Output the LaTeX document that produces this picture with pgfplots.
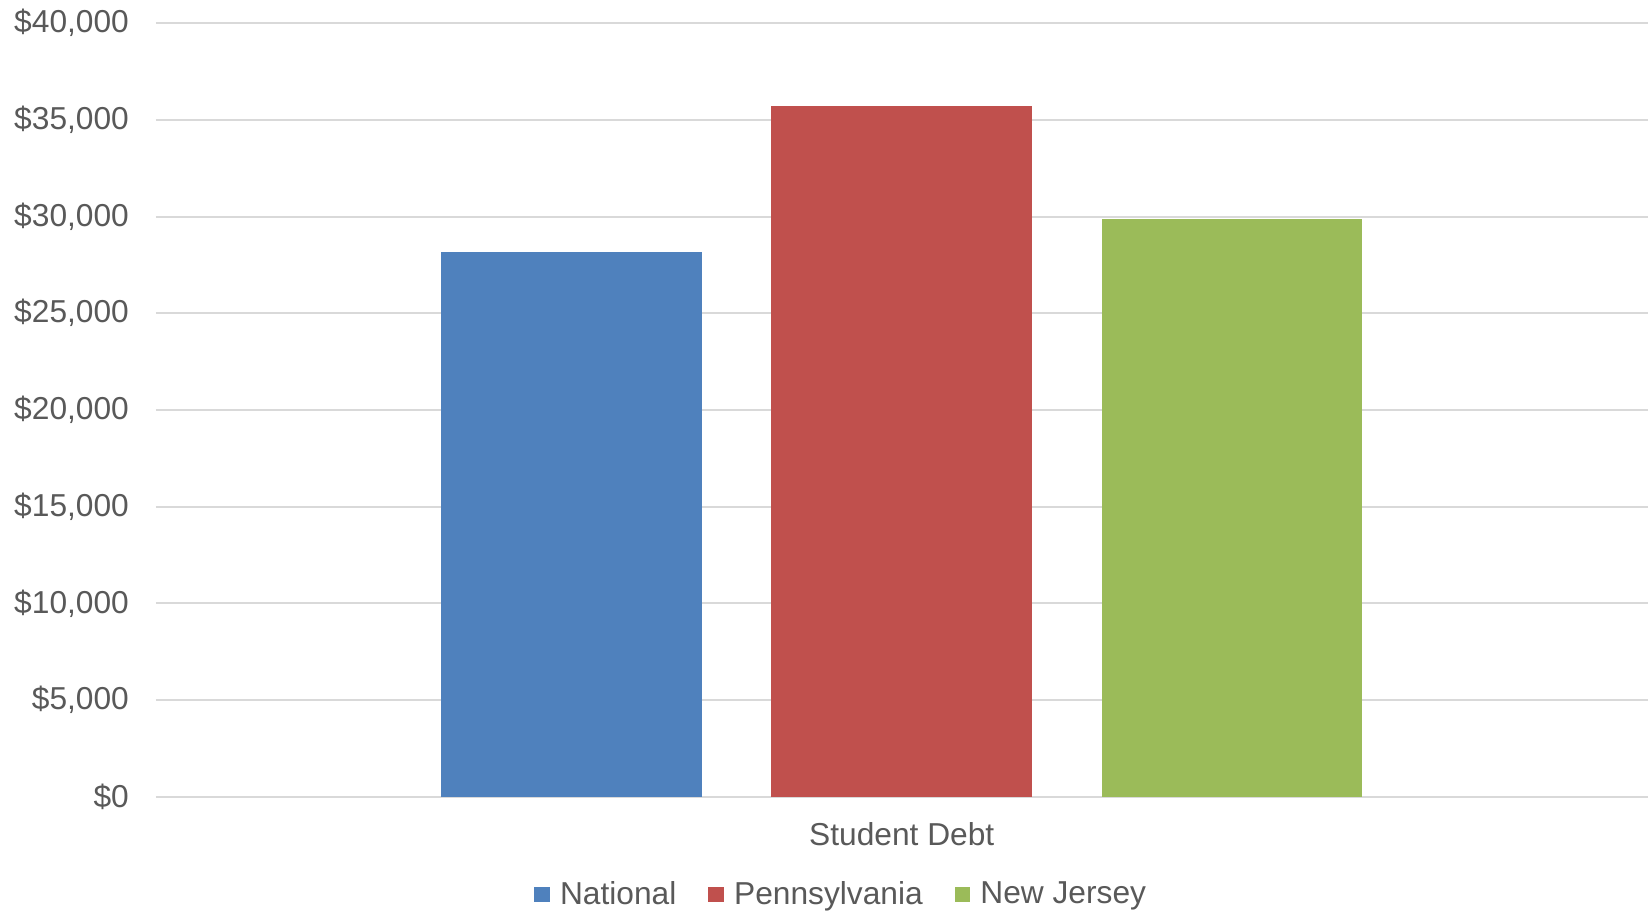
\documentclass[border=0pt]{standalone}
\usepackage{pgfplots}
\pgfplotsset{compat=1.18}
\usepackage{fontspec}
\setmainfont{Liberation Sans}
\definecolor{txt}{HTML}{595959}
\definecolor{gridc}{HTML}{D9D9D9}
\definecolor{cnat}{HTML}{4F81BD}
\definecolor{cpa}{HTML}{C0504D}
\definecolor{cnj}{HTML}{9BBB59}
\begin{document}
\begin{tikzpicture}
\begin{axis}[
  scale only axis,
  width=750bp, height=389bp,
  ybar=35bp, bar width=131bp,
  xmin=-1, xmax=1,
  ymin=0, ymax=40000,
  ytick={0,5000,...,40000},
  scaled y ticks=false,
  xtick={0}, xticklabels={Student Debt},
  ymajorgrids, grid style={gridc, line width=1pt},
  axis lines*=left,
  x axis line style={gridc, line width=1pt, -},
  y axis line style={draw=none},
  major tick length=0pt,
  tick style={draw=none},
  yticklabel={\$\pgfmathprintnumber{\tick}},
  /pgf/number format/.cd, fixed, 1000 sep={,}, assume math mode=true,
  /pgfplots/.cd,
  ticklabel style={font=\fontsize{16}{19}\selectfont, text=txt},
  yticklabel style={xshift=-10bp},
  xticklabel style={yshift=-9.3bp},
  legend style={draw=none, at={(0.46,-0.126)}, anchor=center,
    legend columns=-1, font=\fontsize{16}{19}\selectfont, text=txt,
    /tikz/every odd column/.append style={column sep=3bp},
    /tikz/every even column/.append style={column sep=14bp}},
  legend image code/.code={\fill[#1] (0bp,-4bp) rectangle (8bp,4bp);},
]
\addplot[fill=cnat, draw=none] coordinates {(0,28150)};
\addplot[fill=cpa, draw=none] coordinates {(0,35720)};
\addplot[fill=cnj, draw=none] coordinates {(0,29860)};
\legend{National, Pennsylvania, New Jersey}
\coordinate (ll) at (rel axis cs:0,0);
\coordinate (ur) at (rel axis cs:1,1);
\end{axis}
\path (ll) ++(-78.3bp,-58.2bp);
\path (ur) ++(1.6bp,11.6bp);
\end{tikzpicture}
\end{document}
